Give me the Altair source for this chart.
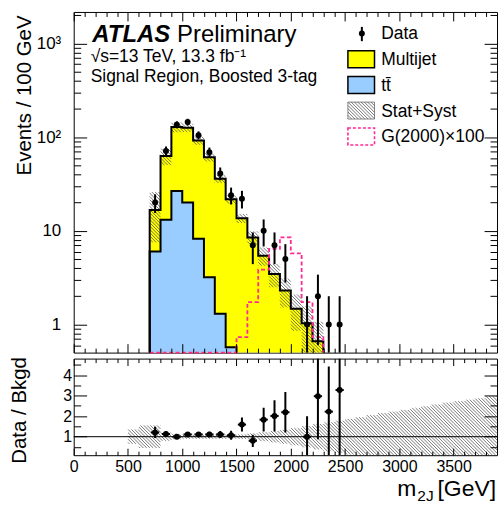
import math
import altair as alt
import pandas as pd

# ---------------- data ----------------
bkg_lo = list(range(700, 2300, 100))          # bin lower edges, 100 GeV bins
total_bkg = [16.7, 62.8, 128, 126, 92, 61, 36, 21.7, 13.6, 8.5, 5.42, 3.46, 2.30, 1.47, 1.03, 0.66]
tt_lo = list(range(700, 1500, 100))
ttbar = [6.0, 13.1, 26.6, 20.0, 8.2, 3.19, 1.30, 0.57]
signal = [0.02, 0.03, 0.04, 0.05, 0.07, 0.1, 0.15, 0.3, 0.73, 1.73, 3.84, 6.4, 8.5, 5.74, 1.73, 0.73]
data_x = list(range(750, 2500, 100))
data_n = [20, 71, 136, 145, 105, 69, 41, 24, 22, 7, 10, 7, 5, 0, 1, 2, 1, 1]
data_err = [4.5, 8.4, 11.7, 12.0, 10.2, 8.3, 6.4, 4.9, 4.7, 2.6, 3.2, 2.6, 2.2, 0, 1.0, 1.4, 1.0, 1.0]
ratio = [1.21, 1.13, 1.0, 1.11, 1.11, 1.11, 1.11, 1.07, 1.59, 0.80, 1.83, 2.01, 2.19, None, 1.0, 2.97, 2.22, 3.27]
ratio_err = [0.27, 0.14, 0.09, 0.09, 0.11, 0.13, 0.17, 0.22, 0.34, 0.30, 0.58, 0.76, 0.98, None, 1.0, 2.1, 2.2, 3.3]
band_lo = list(range(500, 3900, 100))
band_w = [0.35, 0.55, 0.55, 0.20, 0.12, 0.10, 0.10, 0.10, 0.10, 0.10, 0.11, 0.16, 0.22, 0.28, 0.34,
          0.42, 0.52, 0.62, 0.70, 0.78, 0.87, 0.95, 1.05, 1.15, 1.22, 1.30, 1.40, 1.48, 1.57, 1.66,
          1.73, 1.80, 1.87, 1.97]
x_major = list(range(0, 3600, 500))
x_minor = [v for v in range(100, 3900, 100) if v % 500]
ytop_major = [1, 10, 100, 1000]
ytop_minor = [0.6, 0.7, 0.8, 0.9] + [d * m for d in (1, 10, 100) for m in range(2, 10)] + [2000]
yrat_major = [1, 2, 3, 4]
yrat_minor = [0.5, 1.5, 2.5, 3.5, 4.5]

# ---------------- layout / style ----------------
FONT = "Liberation Sans"
W, HT, HR = 425, 342, 97
XMAX = 3900
YT0, YT1 = 0.5, 2170
YR0, YR1 = 0.1, 4.8
YELLOW, BLUE, PINK = "#FFFF00", "#99CCFF", "#FF2A95"
HATCH = "#555555"
HS = 3.3

xs = alt.Scale(domain=[0, XMAX], nice=False, zero=False)
yst = alt.Scale(type="log", domain=[YT0, YT1], nice=False, clamp=True)
ysr = alt.Scale(domain=[YR0, YR1], nice=False, zero=False, clamp=True)
one = pd.DataFrame({"a": [0]})

L0, L1 = math.log10(YT0), math.log10(YT1)
def xpx(g): return g * W / XMAX
def xinv(p): return p * XMAX / W
def ypx_t(v): return HT * (L1 - math.log10(v)) / (L1 - L0)
def yinv_t(p): return 10 ** (L1 - p * (L1 - L0) / HT)
def ypx_r(v): return HR * (YR1 - v) / (YR1 - YR0)
def yinv_r(p): return YR1 - p * (YR1 - YR0) / HR

def hatch(rects, yinv, s=HS):
    out = []
    for (px0, px1, pyt, pyb) in rects:
        kmin = math.ceil((pyt - px1) / s)
        kmax = math.floor((pyb - px0) / s)
        for k in range(kmin, kmax + 1):
            c = k * s
            xa = max(px0, pyt - c)
            xb = min(px1, pyb - c)
            if xb - xa > 0.2:
                out.append({"x": xinv(xa), "y": yinv(xa + c), "x2": xinv(xb), "y2": yinv(xb + c)})
    return pd.DataFrame(out)

def X(f="x:Q", axis=None): return alt.X(f, scale=xs, axis=axis)
def YT(f="y:Q", axis=None): return alt.Y(f, scale=yst, axis=axis)
def YR(f="y:Q", axis=None): return alt.Y(f, scale=ysr, axis=axis)

def tick_axis(orient, offset, values, size):
    return alt.Axis(orient=orient, offset=offset, values=values, tickSize=size, labels=False,
                    domain=False, grid=False, title=None, ticks=True, tickColor="black",
                    tickWidth=1, zindex=1)

def txt(s, x, y, size, align="left", **kw):
    return alt.Chart(one).mark_text(text=s, align=align, baseline="alphabetic", font=FONT,
                                    fontSize=size, color="black", **kw).encode(
        x=alt.value(x), y=alt.value(y))

def vrect(x0, x1, y0, y1, **kw):
    return alt.Chart(one).mark_rect(**kw).encode(x=alt.value(x0), x2=alt.value(x1),
                                                 y=alt.value(y0), y2=alt.value(y1))

# ---------------- top panel ----------------
df_tot = pd.DataFrame({"x": bkg_lo + [bkg_lo[-1] + 100], "y": total_bkg + [total_bkg[-1]]})
df_tt = pd.DataFrame({"x": tt_lo + [tt_lo[-1] + 100], "y": ttbar + [ttbar[-1]]})
df_tot_line = pd.DataFrame({"x": [bkg_lo[0]] + bkg_lo + [bkg_lo[-1] + 100],
                            "y": [0.01] + total_bkg + [0.01]})
df_tot_line["i"] = range(len(df_tot_line))
df_tt_line = pd.DataFrame({"x": [tt_lo[0]] + tt_lo + [tt_lo[-1] + 100], "y": [0.01] + ttbar + [0.01]})
df_tt_line["i"] = range(len(df_tt_line))
df_sig = pd.DataFrame({"x": bkg_lo + [bkg_lo[-1] + 100], "y": signal + [0.01]})
df_sig["i"] = range(len(df_sig))

df_data = pd.DataFrame({"x": data_x, "n": data_n, "e": data_err})
df_data = df_data[df_data.n > 0].copy()
df_data["lo"] = (df_data.n - df_data.e).clip(lower=0.01)
df_data["hi"] = df_data.n + df_data.e

top_rects = []
for lo_edge, v in zip(bkg_lo, total_bkg):
    w = band_w[band_lo.index(lo_edge)]
    top_rects.append((xpx(lo_edge), xpx(lo_edge + 100), ypx_t(v * (1 + w)), min(ypx_t(v * (1 - w)), HT)))
df_hatch_top = hatch(top_rects, yinv_t)

# legend geometry (pixels inside the top plot)
BX0, BX1 = 275.3, 302.0
TX = 308.7
df_leg_hatch = hatch([(BX0, BX1, 90.5, 107.5)], yinv_t)

top_layers = [
    alt.Chart(df_tot).mark_area(interpolate="step-after", color=YELLOW).encode(
        x=X(), y=YT(), y2=alt.value(HT)),
    alt.Chart(df_tt).mark_area(interpolate="step-after", color=BLUE).encode(
        x=X(), y=YT(), y2=alt.value(HT)),
    alt.Chart(df_hatch_top).mark_rule(color=HATCH, strokeWidth=0.8).encode(
        x=X(), y=YT(), x2="x2:Q", y2="y2:Q"),
    alt.Chart(df_tt_line).mark_line(interpolate="step-after", color="black", strokeWidth=2).encode(
        x=X(), y=YT(), order="i:Q"),
    alt.Chart(df_tot_line).mark_line(interpolate="step-after", color="black", strokeWidth=2).encode(
        x=X(), y=YT(), order="i:Q"),
    alt.Chart(df_sig).mark_line(interpolate="step-after", color=PINK, strokeWidth=1.8,
                                strokeDash=[4, 2.5]).encode(x=X(), y=YT(), order="i:Q"),
    alt.Chart(df_data).mark_rule(color="black", strokeWidth=2).encode(
        x=X(), y=YT("lo:Q"), y2="hi:Q"),
    alt.Chart(df_data).mark_circle(color="black", size=36, opacity=1).encode(x=X(), y=YT("n:Q")),
    # texts
    txt("ATLAS", 18.7, 30, 24, fontWeight="bold", fontStyle="italic"),
    txt("Preliminary", 103.7, 30, 24),
    txt("\u221as=13 TeV, 13.3 fb\u207b\u00b9", 17, 50, 17.5),
    txt("Signal Region, Boosted 3-tag", 17, 70, 17.5),
    # legend
    alt.Chart(one).mark_rule(color="black", strokeWidth=2).encode(
        x=alt.value(289.3), y=alt.value(15), y2=alt.value(29.3)),
    alt.Chart(one).mark_circle(color="black", size=36, opacity=1).encode(
        x=alt.value(289.3), y=alt.value(21.5)),
    txt("Data", TX, 27.5, 17.5),
    vrect(BX0, BX1, 39, 56, fill=YELLOW, stroke="black", strokeWidth=1.5),
    txt("Multijet", TX, 53.5, 17.5),
    vrect(BX0, BX1, 64.8, 81.8, fill=BLUE, stroke="black", strokeWidth=1.5),
    txt("tt\u0304", TX, 79.3, 17.5),
    vrect(BX0, BX1, 90.5, 107.5, fill="white", stroke="#888888", strokeWidth=1),
    alt.Chart(df_leg_hatch).mark_rule(color=HATCH, strokeWidth=0.8).encode(
        x=X(), y=YT(), x2="x2:Q", y2="y2:Q"),
    txt("Stat+Syst", TX, 105, 17.5),
    vrect(BX0, BX1, 116.5, 133.5, fill="white", stroke=PINK, strokeWidth=1.6, strokeDash=[3, 2]),
    txt("G(2000)\u00d7100", TX, 131, 17.5),
]

cdf = pd.DataFrame({"cx": [1000], "cy": [1.0]})
label_y_top = alt.Axis(orient="left", offset=0, values=ytop_major, ticks=False, tickSize=0,
                       domain=False, grid=False, labelPadding=13, labelFlush=False,
                       labelOverlap=False, zindex=1, labelFontSize=17,
                       labelExpr="datum.value == 1 ? '1' : datum.value == 10 ? '10' : "
                                 "datum.value == 100 ? '10\u00b2' : '10\u00b3'",
                       title="Events / 100 GeV", titleAngle=270, titleAlign="right",
                       titleBaseline="alphabetic", titleX=-43, titleY=3)
carriers_top = [
    alt.Chart(cdf).mark_point(opacity=0).encode(
        x=X("cx:Q", tick_axis("top", -HT, x_major, 9)), y=YT("cy:Q", label_y_top)),
    alt.Chart(cdf).mark_point(opacity=0).encode(
        x=X("cx:Q", tick_axis("top", -HT, x_minor, 4.5)), y=YT("cy:Q", tick_axis("right", -W, ytop_major, 13))),
    alt.Chart(cdf).mark_point(opacity=0).encode(
        x=X("cx:Q", tick_axis("bottom", -HT, x_major, 9)), y=YT("cy:Q", tick_axis("right", -W, ytop_minor, 7))),
    alt.Chart(cdf).mark_point(opacity=0).encode(
        x=X("cx:Q", tick_axis("bottom", -HT, x_minor, 4.5)), y=YT("cy:Q", tick_axis("left", -W, ytop_major, 13))),
    alt.Chart(cdf).mark_point(opacity=0).encode(
        x=X("cx:Q"), y=YT("cy:Q", tick_axis("left", -W, ytop_minor, 7))),
    vrect(-73, 429, -10, -9, opacity=0, color="white"),
]

top = alt.layer(*(top_layers + carriers_top)).resolve_axis(
    x="independent", y="independent").properties(width=W, height=HT)

# ---------------- ratio panel ----------------
df_r = pd.DataFrame({"x": data_x, "r": ratio, "e": ratio_err}).dropna()
df_r["lo"] = (df_r.r - df_r.e).clip(lower=0.0)
df_r["hi"] = df_r.r + df_r.e
df_r["xl"] = df_r.x - 38
df_r["xh"] = df_r.x + 38

rat_rects = []
for lo_edge, w in zip(band_lo, band_w):
    rat_rects.append((xpx(lo_edge), xpx(lo_edge + 100), ypx_r(min(1 + w, YR1)), ypx_r(max(1 - w, YR0))))
df_hatch_rat = hatch(rat_rects, yinv_r)
df_one_line = pd.DataFrame({"x": [0], "x2": [XMAX], "y": [1.0]})

rcdf = pd.DataFrame({"cx": [1000], "cy": [1.0]})
label_x_rat = alt.Axis(orient="bottom", offset=0, values=x_major, ticks=False, tickSize=0,
                       domain=False, grid=False, labelPadding=3, labelFlush=False,
                       labelOverlap=False, format="d", title=None)
label_y_rat = alt.Axis(orient="left", offset=0, values=yrat_major, ticks=False, tickSize=0,
                       domain=False, grid=False, labelPadding=2, labelFlush=False,
                       labelOverlap=False, format="d",
                       title="Data / Bkgd", titleAngle=270, titleAlign="right",
                       titleBaseline="alphabetic", titleX=-48, titleY=-2)

rat_layers = [
    alt.Chart(df_hatch_rat).mark_rule(color=HATCH, strokeWidth=0.8).encode(
        x=X(), y=YR(), x2="x2:Q", y2="y2:Q"),
    alt.Chart(df_one_line).mark_rule(color="black", strokeWidth=1).encode(
        x=X(), x2="x2:Q", y=YR()),
    alt.Chart(df_r).mark_rule(color="black", strokeWidth=2, clip=True).encode(
        x=X(), y=YR("lo:Q"), y2="hi:Q"),
    alt.Chart(df_r).mark_rule(color="black", strokeWidth=2).encode(
        x=X("xl:Q"), x2="xh:Q", y=YR("r:Q")),
    alt.Chart(df_r).mark_circle(color="black", size=36, opacity=1).encode(x=X(), y=YR("r:Q")),
    # x-axis title with subscript
    txt("m", 344, 138, 23, align="right"),
    txt("2J", 345, 143, 15.5),
    txt("[GeV]", 424, 138, 23, align="right"),
    alt.Chart(rcdf).mark_point(opacity=0).encode(x=X("cx:Q", label_x_rat), y=YR("cy:Q", label_y_rat)),
    alt.Chart(rcdf).mark_point(opacity=0).encode(
        x=X("cx:Q", tick_axis("top", -HR, x_major, 7)), y=YR("cy:Q", tick_axis("right", -W, yrat_major, 13))),
    alt.Chart(rcdf).mark_point(opacity=0).encode(
        x=X("cx:Q", tick_axis("top", -HR, x_minor, 4)), y=YR("cy:Q", tick_axis("right", -W, yrat_minor, 7))),
    alt.Chart(rcdf).mark_point(opacity=0).encode(
        x=X("cx:Q", tick_axis("bottom", -HR, x_major, 7)), y=YR("cy:Q", tick_axis("left", -W, yrat_major, 13))),
    alt.Chart(rcdf).mark_point(opacity=0).encode(
        x=X("cx:Q", tick_axis("bottom", -HR, x_minor, 4)), y=YR("cy:Q", tick_axis("left", -W, yrat_minor, 7))),
    vrect(-73, 429, 149, 150, opacity=0, color="white"),
]

bottom = alt.layer(*rat_layers).resolve_axis(
    x="independent", y="independent").properties(width=W, height=HR)

chart = alt.vconcat(top, bottom, spacing=6, bounds="flush").properties(
    padding={"left": 0, "top": 0, "right": 0, "bottom": 0}, background="white"
).configure_view(stroke="black", strokeWidth=1).configure_axis(
    labelFont=FONT, titleFont=FONT, labelFontSize=16, titleFontSize=20.5,
    titleFontWeight="normal", labelColor="black", titleColor="black")

chart.save("out.html", embed_options={"renderer": "svg", "actions": False})
